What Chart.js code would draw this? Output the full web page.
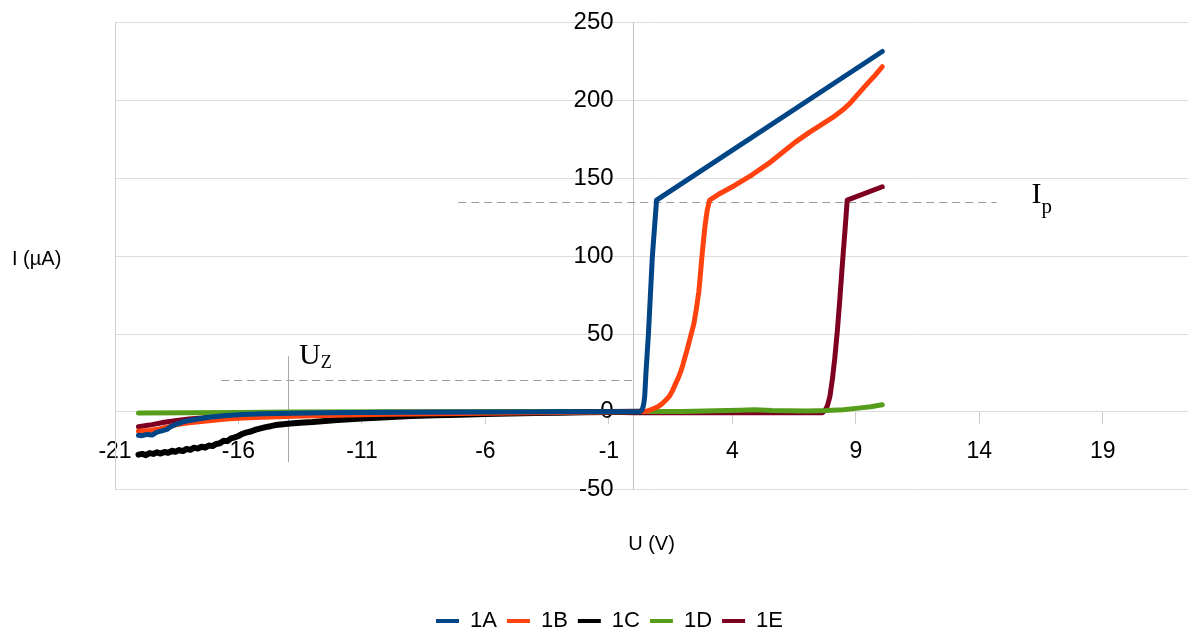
<!DOCTYPE html>
<html><head><meta charset="utf-8">
<script src="https://cdn.jsdelivr.net/npm/chart.js@4/dist/chart.umd.min.js"></script>
<style>html,body{margin:0;padding:0;background:#fff;}#wrap{width:1188px;height:629px;position:relative;}</style>
</head><body><div id="wrap"><canvas id="c"></canvas></div>
<script>
// ---- data ----
const seriesNames = ['1A', '1B', '1C', '1D', '1E'];
const seriesColors = ['#004586', '#ff420e', '#000000', '#579d1c', '#7e0021'];
const xTicks = [-21, -16, -11, -6, -1, 4, 9, 14, 19];
const yTicks = [-50, 0, 50, 100, 150, 200, 250];

const u1A = [-20.05, -19.9, -19.7, -19.5, -19.3, -19.1, -18.9, -18.75, -18.5, -18.15, -17.7, -17.2, -16.6, -15.85, -15, -13.8, -12.5, -11, -9, -6, -3, -0.5, 0.25, 0.33, 0.38, 0.42, 0.45, 0.5, 0.6, 0.76, 0.93, 10.07];
const i1A = [-15.0, -15.3, -14.5, -14.9, -13.0, -12.2, -11.3, -9.5, -7.8, -6.0, -4.7, -3.5, -2.5, -1.7, -1.2, -0.9, -0.6, -0.4, -0.2, -0.1, 0, 0, 0, 1, 3, 6, 10, 25, 50, 100, 136, 231.5];

const u1B = [-20.05, -19.6, -19.2, -18.8, -18.5, -18, -17.2, -16.5, -15.85, -15, -13.8, -12, -10, -8, -6, -4, -2, -0.5, 0.35, 0.6, 0.8, 1.0, 1.14, 1.3, 1.45, 1.57, 1.67, 1.8, 1.9, 2.0, 2.07, 2.16, 2.25, 2.35, 2.44, 2.54, 2.64, 2.7, 2.76, 2.83, 2.9, 2.98, 3.08, 3.5, 4.11, 4.8, 5.47, 6.0, 6.55, 7.1, 7.64, 8.05, 8.45, 8.75, 8.99, 9.25, 9.53, 9.8, 10.07];
const i1B = [-12.5, -12, -11, -9.5, -8.2, -7, -5.7, -4.6, -3.9, -3.4, -2.8, -2.2, -1.6, -1.2, -0.9, -0.6, -0.3, -0.1, 0, 0.8, 2, 3.5, 5, 7.5, 10, 13.5, 17, 21.5, 25.5, 30.5, 34.5, 39.5, 45, 51, 56.5, 66, 77, 87.5, 98.5, 110, 120.5, 129.5, 136, 140.3, 145.6, 152.3, 159.6, 166.3, 173.3, 179.4, 184.9, 189, 193.7, 198, 202.4, 207, 212, 216.6, 221.7];

const u1C = [-20.05, -19.9, -19.75, -19.6, -19.45, -19.3, -19.15, -19.0, -18.85, -18.7, -18.55, -18.4, -18.25, -18.1, -17.95, -17.8, -17.65, -17.5, -17.35, -17.2, -17.05, -16.9, -16.75, -16.6, -16.45, -16.3, -16.15, -16.0, -15.85, -15.7, -15.5, -15.3, -15.1, -14.9, -14.7, -14.5, -14.2, -13.9, -13.5, -13.0, -12.5, -12, -11, -10, -9, -8, -7, -6, -5, -4, -3, -2, -1, 0.3];
const i1C = [-27.5, -27, -27.8, -26.5, -27, -26, -26.8, -25.8, -26.3, -25, -25.6, -24.5, -25.2, -23.8, -24.4, -23, -23.6, -22.4, -23, -21.6, -22, -20.6, -20.2, -18.5, -18.8, -17, -16.4, -15.5, -14.2, -13.3, -12.6, -11.4, -10.6, -9.8, -9.2, -8.5, -7.9, -7.5, -7, -6.5, -5.8, -5.2, -4.2, -3.4, -2.7, -2.2, -1.8, -1.4, -1.0, -0.7, -0.5, -0.3, -0.1, 0];

const u1D = [-20.05, -18, -16, -14, -10, -5, 0, 2, 3.3, 4.3, 4.9, 5.6, 7, 7.8, 8.5, 9.1, 9.6, 10.07];
const i1D = [-0.8, -0.6, -0.4, -0.1, 0, 0.1, 0.2, 0.3, 0.7, 1.1, 1.3, 0.9, 0.6, 0.8, 1.4, 2.4, 3.3, 4.6];

const u1E = [-20.05, -19.6, -19, -18.5, -18, -17, -16, -15, -14, -12, -10, -6, -2, 0, 3, 6, 7.65, 7.75, 7.85, 7.95, 8.05, 8.15, 8.25, 8.35, 8.45, 8.56, 8.65, 10.07];
const i1E = [-9.5, -8.5, -6.7, -5.5, -4.6, -3.3, -2.3, -1.6, -1.1, -0.6, -0.3, -0.1, 0, -0.5, -0.6, -0.6, -0.5, 0.8, 4, 10, 21, 35, 52, 72, 94, 116.5, 136, 144.6];

const seriesU = [u1A, u1B, u1C, u1D, u1E];
const seriesI = [i1A, i1B, i1C, i1D, i1E];

// annotation values (U from, U to, I) and marker (U, I from, I to)
const ipLine = [-7.1, 14.7, 134.5];
const uzLine = [-16.7, 0, 20.6];
const uzMark = [-14, -32.3, 35.7];
const xTitle = 'U (V)';
const yTitle = 'I (µA)';

// ---- chart ----
const datasets = seriesNames.map((n, k) => ({
  label: n,
  data: seriesU[k].map((u, j) => ({x: u, y: seriesI[k][j]})),
  borderColor: seriesColors[k],
  backgroundColor: seriesColors[k],
  borderWidth: n === '1C' ? 6 : 5,
  pointRadius: 0,
  pointHoverRadius: 0,
  tension: 0,
  fill: false,
  borderCapStyle: 'round',
  borderJoinStyle: 'round',
  xAxisID: 'x', yAxisID: 'y'
}));

const annot = {
  id: 'annot',
  beforeDatasetsDraw(chart) {
    const {ctx, chartArea: a, scales: {x, y}} = chart;
    ctx.save();
    // left border
    ctx.strokeStyle = '#d0d0d0'; ctx.lineWidth = 1;
    const lx = Math.round(a.left) + 0.5;
    ctx.beginPath(); ctx.moveTo(lx, a.top); ctx.lineTo(lx, a.bottom); ctx.stroke();
    // dashed lines
    ctx.strokeStyle = '#9a9a9a'; ctx.setLineDash([8, 5]);
    [ipLine, uzLine].forEach(l => {
      const py = Math.round(y.getPixelForValue(l[2])) + 0.5;
      ctx.beginPath(); ctx.moveTo(x.getPixelForValue(l[0]), py); ctx.lineTo(x.getPixelForValue(l[1]), py); ctx.stroke();
    });
    ctx.setLineDash([]);
    ctx.strokeStyle = '#a8a8a8';
    const mx = Math.round(x.getPixelForValue(uzMark[0])) + 0.5;
    ctx.beginPath(); ctx.moveTo(mx, y.getPixelForValue(uzMark[2])); ctx.lineTo(mx, y.getPixelForValue(uzMark[1])); ctx.stroke();
    // labels
    ctx.fillStyle = '#000';
    ctx.textBaseline = 'alphabetic'; ctx.textAlign = 'left';
    const ipy = y.getPixelForValue(ipLine[2]);
    const ipx = x.getPixelForValue(ipLine[1]) + 35;
    ctx.font = '30px "Liberation Serif"';
    ctx.fillText('I', ipx, ipy + 1);
    const wI = ctx.measureText('I').width;
    ctx.font = '21px "Liberation Serif"';
    ctx.fillText('p', ipx + wI, ipy + 11);
    const uzy = y.getPixelForValue(uzLine[2]);
    ctx.font = '30px "Liberation Serif"';
    ctx.fillText('U', mx + 10.5, uzy - 16);
    const wU = ctx.measureText('U').width;
    ctx.font = '18px "Liberation Serif"';
    ctx.fillText('Z', mx + 10.5 + wU, uzy - 12);
    // y axis title (horizontal)
    ctx.font = '20px "Liberation Sans"';
    ctx.textBaseline = 'middle';
    ctx.fillText(yTitle, 12, (a.top + a.bottom) / 2 + 3);
    ctx.restore();
  }
};

new Chart(document.getElementById('c'), {
  type: 'line',
  data: {datasets},
  options: {
    responsive: true,
    maintainAspectRatio: false,
    animation: false,
    events: [],
    layout: {padding: {top: 22.7, left: 31, right: 0, bottom: -13}},
    scales: {
      x: {
        type: 'linear', min: -21, max: 22.45, position: {y: 0},
        afterBuildTicks: s => { s.ticks = xTicks.map(v => ({value: v})); },
        grid: {drawOnChartArea: false, drawTicks: true, tickLength: 12, color: '#cccccc'},
        border: {display: false},
        ticks: {font: {family: 'Liberation Sans', size: 23}, color: '#000', padding: 14, maxRotation: 0, autoSkip: false}
      },
      y: {
        type: 'linear', min: -50, max: 250, position: {x: 0},
        afterBuildTicks: s => { s.ticks = yTicks.map(v => ({value: v})); },
        grid: {color: '#dddddd', lineWidth: 1, drawTicks: false},
        border: {display: true, color: '#c4c4c4', width: 1},
        ticks: {font: {family: 'Liberation Sans', size: 24}, color: '#000', padding: 0, callback: v => v + '   '}
      },
      yL: {
        type: 'linear', position: 'left', display: true,
        grid: {display: false}, border: {display: false}, ticks: {display: false},
        afterFit: s => { s.width = 84; }
      },
      xB: {
        type: 'linear', position: 'bottom', display: true,
        grid: {display: false}, border: {display: false}, ticks: {display: false},
        title: {display: true, text: xTitle, color: '#000', font: {family: 'Liberation Sans', size: 20}, padding: {top: 34.3, bottom: 44}}
      }
    },
    plugins: {
      legend: {
        position: 'bottom', align: 'center',
        labels: {
          usePointStyle: true, pointStyle: 'line', pointStyleWidth: 23,
          font: {family: 'Liberation Sans', size: 22}, color: '#000', padding: 10,
          generateLabels: chart => Chart.defaults.plugins.legend.labels.generateLabels(chart).map(l => Object.assign(l, {lineWidth: 4, pointStyle: 'line'}))
        }
      },
      tooltip: {enabled: false}
    }
  },
  plugins: [annot]
});
</script>
</body></html>
